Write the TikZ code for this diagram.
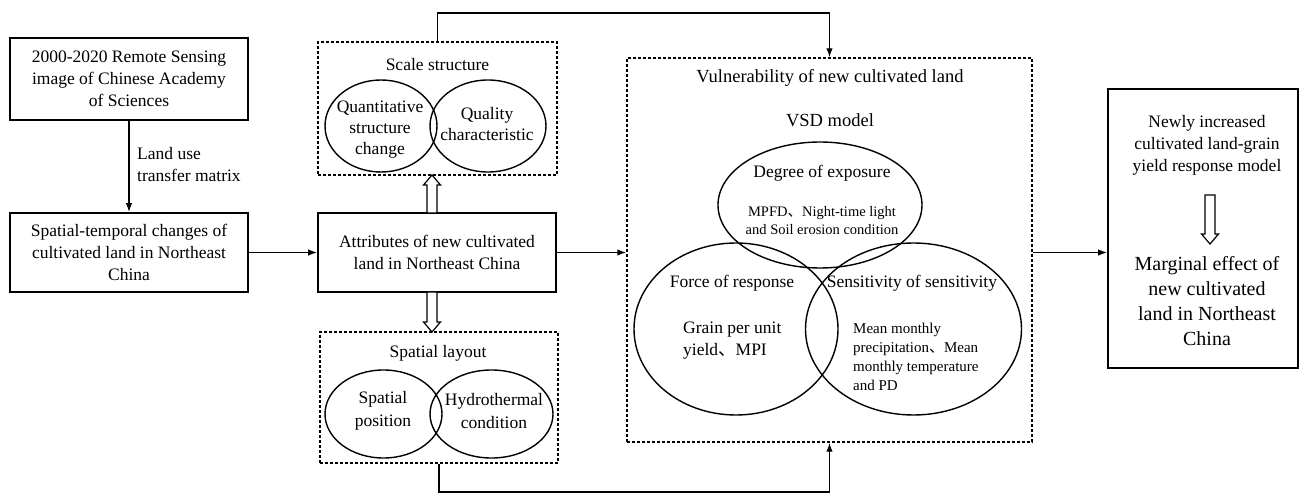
\documentclass[tikz,border=0pt]{standalone}
\usepackage{fontspec}
\setmainfont{Liberation Serif}
\newfontfamily\cjkfont{Noto Sans CJK SC}
\usetikzlibrary{arrows.meta,calc,shapes.geometric}
\newcommand\dunhao{{\cjkfont 、}}
\newcommand\hollowarrow[2]{%
  \draw[line width=1.2pt,fill=white] let \p1=(#1), \p2=(#2), \n1={sign(\y2-\y1)} in
    ({\x1-5pt},{\y1}) -- ({\x1-5pt},{\y2-\n1*10pt}) -- ({\x1-8.5pt},{\y2-\n1*10pt}) --
    ({\x1},{\y2}) -- ({\x1+8.5pt},{\y2-\n1*10pt}) -- ({\x1+5pt},{\y2-\n1*10pt}) --
    ({\x1+5pt},{\y1}) -- cycle;}
\begin{document}
\begin{tikzpicture}[x=1pt,y=-1pt,
  txt/.style={align=center, inner sep=0pt, font=\fontsize{17.5}{22}\selectfont, text=black},
  box/.style={draw, line width=1.8pt, inner sep=0pt, txt},
  dbox/.style={draw, line width=1.4pt, dash pattern=on 3pt off 2pt, inner sep=0pt},
  ell/.style={draw, ellipse, line width=1.4pt, inner sep=0pt},
  arr/.style={line width=1.4pt, -{Latex[length=9pt,width=6.5pt]}},
  conn/.style={line width=1.4pt}]
\useasboundingbox (0,0) rectangle (1302,494);

% left column
\node[box, minimum width=238, minimum height=82] (A) at (129,79)
  {2000-2020 Remote Sensing\\image of Chinese Academy\\of Sciences};
\node[box, minimum width=238, minimum height=79] (B) at (129,252.5)
  {Spatial-temporal changes of\\cultivated land in Northeast\\China};
\node[txt, align=left, anchor=west] (lbl) at (137,165) {Land use\\transfer matrix};
\draw[arr] (A.south) -- (B.north);

% middle column
\node[box, minimum width=238, minimum height=79] (C) at (437,252.5)
  {Attributes of new cultivated\\land in Northeast China};
\draw[arr] (B.east) -- (C.west);

\node[dbox, minimum width=239, minimum height=133] (scale) at (437.5,108.5) {};
\node[txt] (scaleT) at (437.5,65) {Scale structure};
\node[ell, minimum width=112, minimum height=92] (e1) at (381,126) {};
\node[ell, minimum width=116, minimum height=92] (e2) at (488,126) {};
\node[txt, font=\fontsize{17.5}{21}\selectfont] (e1t) at (380,130) {Quantitative\\structure\\change};
\node[txt, font=\fontsize{17.5}{21}\selectfont] (e2t) at (487,124) {Quality\\characteristic};

\node[dbox, minimum width=238, minimum height=131] (layout) at (439,397.5) {};
\node[txt] (layoutT) at (438,353) {Spatial layout};
\node[ell, minimum width=117, minimum height=88] (e3) at (383.5,414) {};
\node[ell, minimum width=123, minimum height=88] (e4) at (491.5,414) {};
\node[txt, font=\fontsize{17.5}{23}\selectfont] (e3t) at (383,411) {Spatial\\position};
\node[txt, font=\fontsize{17.5}{23}\selectfont] (e4t) at (494,411) {Hydrothermal\\condition};

\coordinate (ua1) at (432,213);
\coordinate (ua2) at (432,175);
\coordinate (da1) at (432,292);
\coordinate (da2) at (432,332);
\hollowarrow{ua1}{ua2}
\hollowarrow{da1}{da2}

% VSD block
\node[dbox, minimum width=405, minimum height=384] (vsd) at (829.5,250) {};
\node[txt, font=\fontsize{18.5}{22}\selectfont] (vt) at (830,78) {Vulnerability of new cultivated land};
\node[txt, font=\fontsize{18.5}{22}\selectfont] (vm) at (830,120) {VSD model};
\node[ell, minimum width=204, minimum height=126] (ex) at (820,205) {};
\node[ell, minimum width=204, minimum height=172] (fo) at (736,329) {};
\node[ell, minimum width=216, minimum height=172] (se) at (913.5,329) {};
\node[txt] (ext) at (822,173) {Degree of exposure};
\node[txt, font=\fontsize{14.5}{18}\selectfont] (exd) at (822,221) {MPFD\dunhao Night-time light\\and Soil erosion condition};
\node[txt] (fot) at (732,283) {Force of response};
\node[txt, align=left, anchor=west] (fod) at (683,341) {Grain per unit\\yield\dunhao MPI};
\node[txt] (set) at (912,283) {Sensitivity of sensitivity};
\node[txt, align=left, anchor=west, font=\fontsize{15}{18.8}\selectfont] (sed) at (853,357)
  {Mean monthly\\precipitation\dunhao Mean\\monthly temperature\\and PD};

\draw[arr] (C.east) -- (C.east -| vsd.west);
\coordinate (topline) at (438,13);
\coordinate (botline) at (442,492);
\draw[arr] (scale.north) -- (scale.north |- topline) -| (vsd.north);
\draw[arr] (layout.south) -- (layout.south |- botline) -| (vsd.south);

% right box
\node[box, minimum width=190, minimum height=279] (R) at (1203,228.5) {};
\node[txt] (R1) at (1207,145) {Newly increased\\cultivated land-grain\\yield response model};
\node[txt, font=\fontsize{20}{25}\selectfont] (R2) at (1207,301) {Marginal effect of\\new cultivated\\land in Northeast\\China};
\coordinate (ra1) at (1210,195);
\coordinate (ra2) at (1210,244);
\hollowarrow{ra1}{ra2}
\draw[arr] (C.east -| vsd.east) -- (C.east -| R.west);
\end{tikzpicture}
\end{document}
